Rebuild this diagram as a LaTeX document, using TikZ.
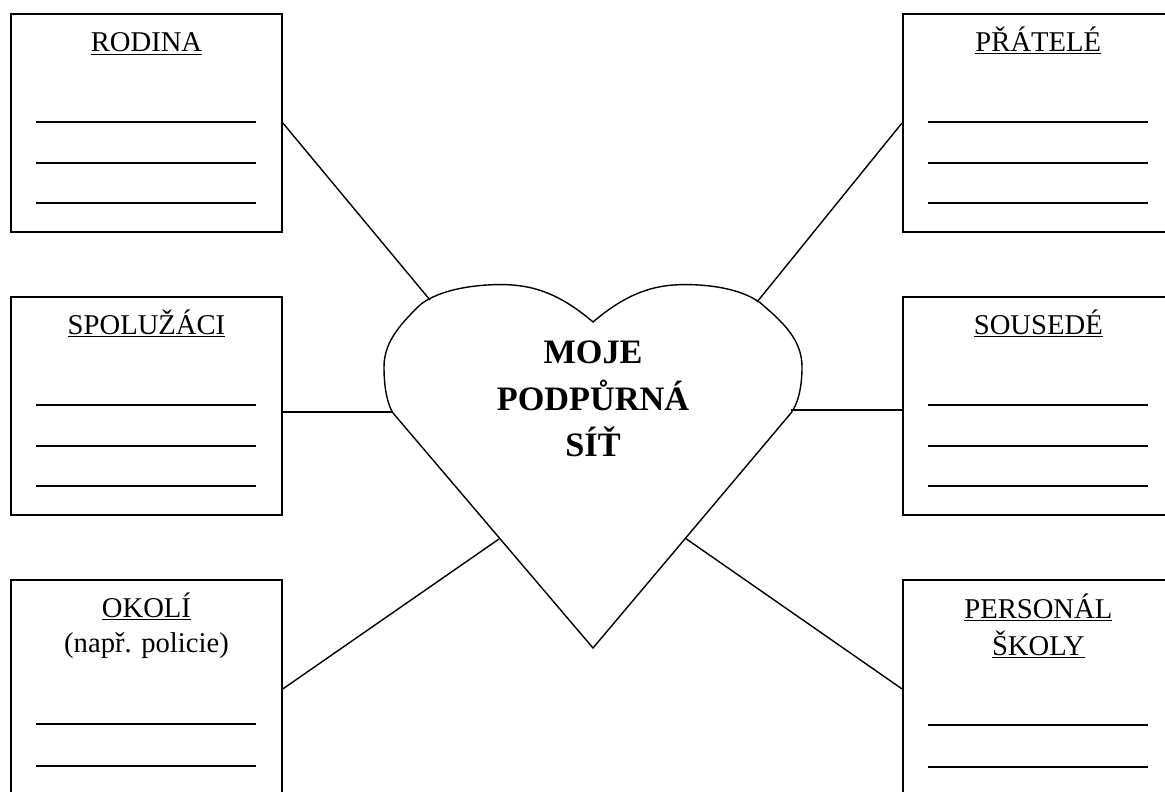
\documentclass[tikz,border=0pt]{standalone}
\usepackage{fontspec}
\setmainfont{Liberation Serif}
\usetikzlibrary{calc}

\begin{document}
\begin{tikzpicture}[x=0.02cm, y=-0.02cm, node distance=5.66cm, line width=0.8pt,
    box/.style={draw, line width=1pt, minimum width=5.42cm, minimum height=4.36cm, inner sep=0pt},
    title/.style={anchor=base, inner sep=0pt, font=\fontsize{16.3}{20}\selectfont},
    blank/.style={line width=0.8pt},
    blankR/.style={line width=1.3pt}]

  \useasboundingbox (0,0) rectangle (1165,791);
  \clip (0,0) rectangle (1165,791);

  \node[box] (rodina) at (146.5,123) {};
  \node[box] (spoluzaci) [below of=rodina] {};
  \node[box] (okoli) [below of=spoluzaci] {};
  \node[box] (pratele) [right of=rodina, node distance=17.84cm] {};
  \node[box] (sousede) [below of=pratele] {};
  \node[box] (personal) [below of=sousede] {};

  \node[title] (tRod) at ($(rodina.north)+(0,38)$) {\underline{RODINA}};
  \node[title] (tSpo) at ($(spoluzaci.north)+(0,38)$) {\underline{SPOLUŽÁCI}};
  \node[title] (tOko) at ($(okoli.north)+(0,38)$) {\underline{OKOLÍ}};
  \node[title] (tOko2) at ($(okoli.north)+(0,73)$) {(např. policie)};
  \node[title] (tPra) at ($(pratele.north)+(0,38)$) {\underline{PŘÁTELÉ}};
  \node[title] (tSou) at ($(sousede.north)+(0,38)$) {\underline{SOUSEDÉ}};
  \node[title] (tPer) at ($(personal.north)+(0,39)$) {\underline{PERSONÁL}};
  \node[title] (tPer2) at ($(personal.north)+(0,76)$) {\underline{ŠKOLY}};

  \foreach \b in {rodina,spoluzaci}
    \foreach \o in {109,150,190}
      \draw[blank] ($(\b.north west)+(26,\o)$) -- +(220,0);
  \foreach \o in {145,187}
    \draw[blank] ($(okoli.north west)+(26,\o)$) -- +(220,0);
  \foreach \b in {pratele,sousede}
    \foreach \o in {109,150,190}
      \draw[blankR] ($(\b.north west)+(26,\o)$) -- +(220,0);
  \foreach \o in {146,188}
    \draw[blankR] ($(personal.north west)+(26,\o)$) -- +(220,0);

  \draw (593,322) .. controls (552,287) and (522,283) .. (487,285)
    .. controls (455,287) and (432,295) .. (420,305)
    .. controls (396,328) and (384,345) .. (384,367)
    .. controls (384,390) and (388,405) .. (393,413)
    -- (593,648) -- (791,413)
    .. controls (797,405) and (802,390) .. (802,367)
    .. controls (802,345) and (790,328) .. (765,307)
    .. controls (753,295) and (730,287) .. (699,285)
    .. controls (664,283) and (634,287) .. (593,322) -- cycle;
  \node[align=center, font=\fontsize{19.5}{26.4}\selectfont\bfseries] (srdce) at (593,399) {MOJE\\PODPŮRNÁ\\SÍŤ};

  \coordinate (hRod) at (430,300);
  \coordinate (hPra) at (757,302);
  \coordinate (hSpo) at (393,412);
  \coordinate (hSou) at (791,410);
  \coordinate (hOko) at (499,539);
  \coordinate (hPer) at (685,538);

  \draw (rodina.east) -- (hRod);
  \draw (hSpo -| spoluzaci.east) -- (hSpo);
  \draw (okoli.east) -- (hOko);
  \draw (pratele.west) -- (hPra);
  \draw (hSou -| sousede.west) -- (hSou);
  \draw (personal.west) -- (hPer);
\end{tikzpicture}
\end{document}
